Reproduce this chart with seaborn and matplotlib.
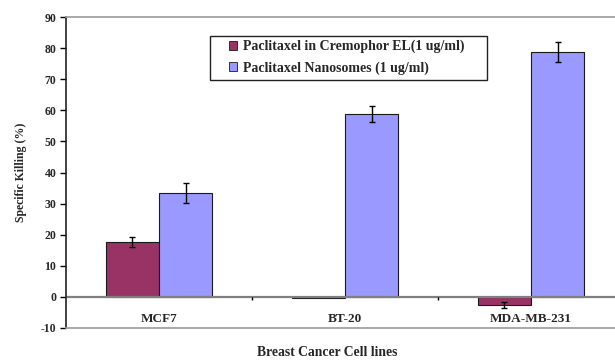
import matplotlib
matplotlib.use("Agg")
import matplotlib.pyplot as plt
from matplotlib.patches import Rectangle
import seaborn as sns
import pandas as pd

# Specific killing of breast cancer cell lines by two paclitaxel formulations
cell_lines = ["MCF7", "BT-20", "MDA-MB-231"]
treatments = ["Paclitaxel in Cremophor EL(1 ug/ml)", "Paclitaxel Nanosomes (1 ug/ml)"]
cremophor_killing = [17.6, -0.5, -2.6]
cremophor_err = [1.6, 0.0, 1.0]
nanosome_killing = [33.4, 58.8, 78.8]
nanosome_err = [3.3, 2.6, 3.2]
y_ticks = [-10, 0, 10, 20, 30, 40, 50, 60, 70, 80, 90]

df = pd.DataFrame({
    "Cell line": cell_lines * 2,
    "Treatment": [treatments[0]] * 3 + [treatments[1]] * 3,
    "Killing": cremophor_killing + nanosome_killing,
    "Err": cremophor_err + nanosome_err,
})

sns.set_style("white")
plt.rcParams["font.family"] = ["Liberation Serif", "DejaVu Serif"]

fig = plt.figure(figsize=(6.15, 3.62), dpi=100)
ax = fig.add_axes([66 / 615, 34 / 362, 558 / 615, 311 / 362])

palette = {treatments[0]: "#993366", treatments[1]: "#9999FF"}
sns.barplot(data=df, x="Cell line", y="Killing", hue="Treatment",
            palette=palette, width=0.57, gap=0, errorbar=None,
            edgecolor="#1a1a1a", linewidth=0.8, saturation=1, ax=ax)

# error bars placed at the tip of each drawn bar
bars = list(ax.patches)[:6]
for p, err in zip(bars, df["Err"]):
    if err <= 0:
        continue
    xc = p.get_x() + p.get_width() / 2
    tip = p.get_y() + p.get_height()
    ax.errorbar(xc, tip, yerr=err, fmt="none", ecolor="black",
                elinewidth=1.0, capsize=2.5, capthick=1.0, zorder=5)

ax.set_xlim(-0.5, 2.5)
ax.set_ylim(-10, 90)
ax.set_yticks(y_ticks)
ax.set_yticklabels([str(t) for t in y_ticks], fontsize=8.5, fontweight="bold")
ax.tick_params(axis="y", which="both", direction="out", length=4, width=1,
               color="black", left=True, pad=3)
ax.set_xticks([])
ax.set_xlabel("")
ax.set_ylabel("Specific Killing (%)", fontsize=8.5, fontweight="bold", labelpad=10)

# zero line and category separators
ax.axhline(0, color="#7f7f7f", lw=1.6, zorder=1)
ax.vlines([0.5, 1.5], -1.0, 0, color="black", lw=1.0, zorder=2)

for i, name in enumerate(cell_lines):
    ax.text(i, -7, name, ha="center", va="center", fontsize=9.5,
            fontweight="bold")

for side in ["top", "bottom", "right"]:
    ax.spines[side].set_color("#9a9a9a")
    ax.spines[side].set_linewidth(1.2)
ax.spines["left"].set_color("#222222")
ax.spines["left"].set_linewidth(1.2)

fig.text(327 / 615, 10 / 362, "Breast Cancer Cell lines", ha="center",
         va="center", fontsize=9.8, fontweight="bold")

# legend box with the entries inset from its left edge
box = Rectangle((210 / 615, 1 - 80 / 362), 277 / 615, 44 / 362,
                transform=fig.transFigure, facecolor="white",
                edgecolor="#222222", lw=1.0, zorder=4, clip_on=False)
ax.add_patch(box)

leg = ax.legend(loc="upper left", bbox_to_anchor=(229 / 615, 1 - 40 / 362),
                bbox_transform=fig.transFigure, frameon=False, fontsize=10,
                handlelength=0.55, handleheight=0.55, handletextpad=0.45,
                borderpad=0.0, labelspacing=0.55, borderaxespad=0)
leg.set_zorder(6)
for t in leg.get_texts():
    t.set_fontweight("bold")
for h in leg.legend_handles:
    h.set_edgecolor("#1a1a1a")
    h.set_linewidth(0.6)

fig.savefig("out.png", dpi=100)
